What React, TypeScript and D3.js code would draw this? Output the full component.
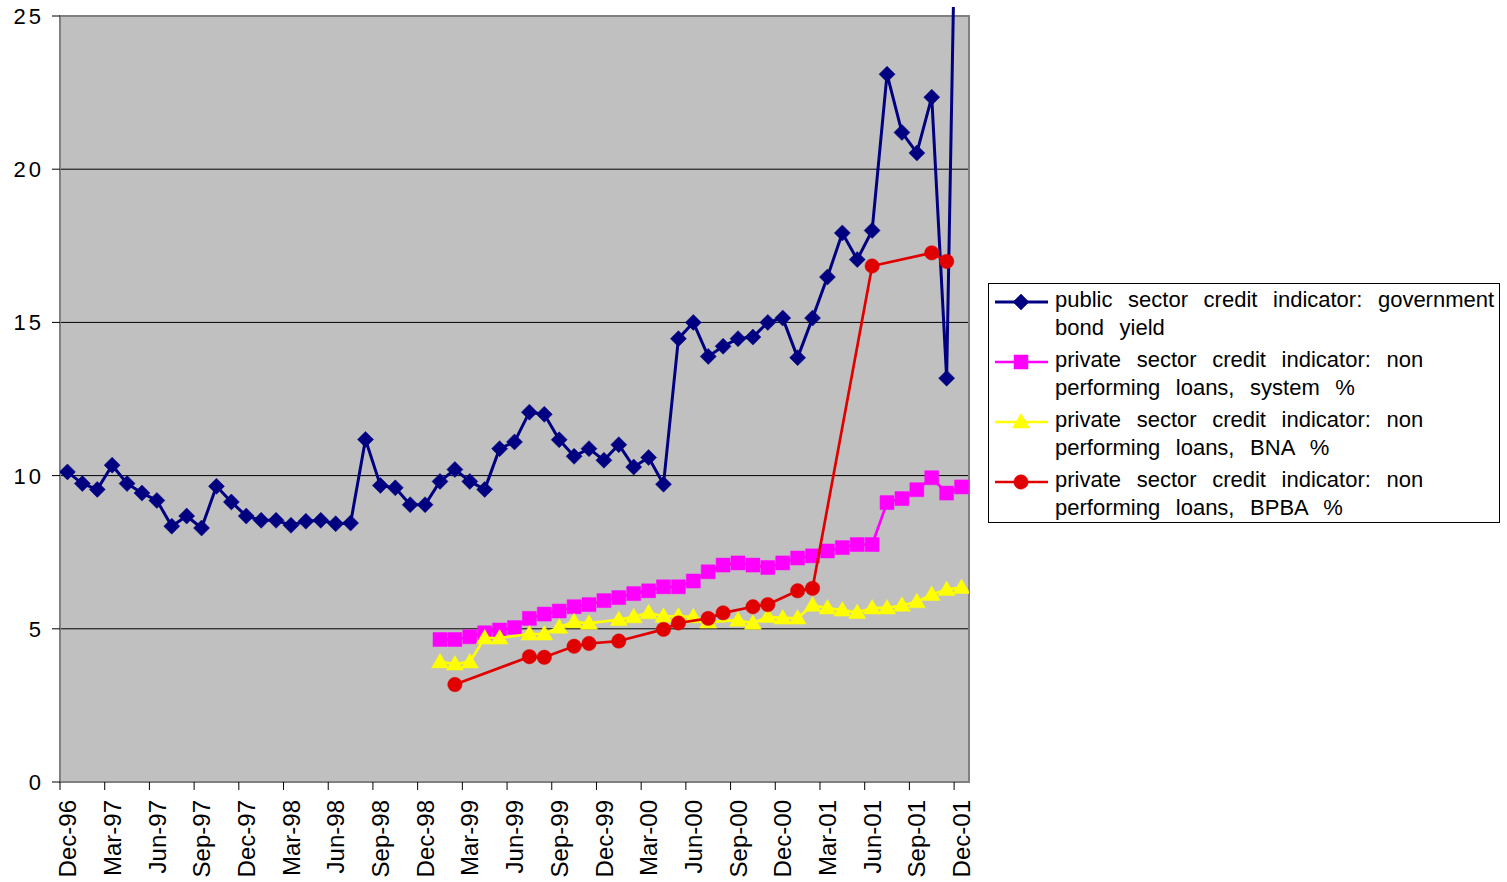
import React from 'react'
import * as d3 from 'd3'

// quarterly tick labels on the category axis (every 3rd month, Dec-96 .. Dec-01)
const tickLabels = [
  'Dec-96', 'Mar-97', 'Jun-97', 'Sep-97', 'Dec-97', 'Mar-98', 'Jun-98',
  'Sep-98', 'Dec-98', 'Mar-99', 'Jun-99', 'Sep-99', 'Dec-99', 'Mar-00',
  'Jun-00', 'Sep-00', 'Dec-00', 'Mar-01', 'Jun-01', 'Sep-01', 'Dec-01',
]
const nMonths = 61
const yTicks = [0, 5, 10, 15, 20, 25]

// monthly values, Dec-96 .. Dec-01
const bondYield = [
  10.12, 9.74, 9.55, 10.34, 9.74, 9.43, 9.19, 8.35, 8.68, 8.29,
  9.65, 9.14, 8.68, 8.54, 8.54, 8.38, 8.51, 8.54, 8.43, 8.45,
  11.18, 9.68, 9.6, 9.05, 9.05, 9.81, 10.2, 9.81, 9.55, 10.88,
  11.1, 12.07, 12.0, 11.17, 10.63, 10.88, 10.5, 11.01, 10.28, 10.59,
  9.72, 14.47, 15.0, 13.89, 14.22, 14.47, 14.52, 15.0, 15.14, 13.85,
  15.14, 16.48, 17.92, 17.05, 18.0, 23.1, 21.2, 20.53, 22.35, 13.18,
  40,
]
const lead = Array(25).fill(null)
const nplSystem = [
  ...lead,
  4.65, 4.65, 4.74, 4.87, 4.96, 5.04, 5.34, 5.48, 5.58, 5.72, 5.79, 5.92,
  6.02, 6.15, 6.24, 6.37, 6.37, 6.56, 6.86, 7.08, 7.15, 7.08, 7.0, 7.15,
  7.31, 7.38, 7.54, 7.65, 7.75, 7.75, 9.12, 9.25, 9.54, 9.93, 9.43, 9.63,
]
const nplBNA = [
  ...lead,
  3.92, 3.85, 3.92, 4.7, 4.7, null, 4.83, 4.83, 5.05, 5.23, 5.18, null,
  5.3, 5.39, 5.52, 5.41, 5.41, 5.39, 5.22, null, 5.28, 5.18, 5.4, 5.35,
  5.35, 5.77, 5.68, 5.61, 5.53, 5.68, 5.68, 5.77, 5.88, 6.12, 6.28, 6.35,
]
const nplBPBA = [
  ...lead,
  null, 3.18, null, null, null, null, 4.09, 4.07, null, 4.43, 4.52, null,
  4.6, null, null, 4.98, 5.19, null, 5.34, 5.52, null, 5.72, 5.79, null,
  6.24, 6.32, null, null, null, 16.84, null, null, null, 17.27, 16.99, null,
]

// marker shapes, Excel-like: rotated square, square, triangle, circle
const diamond = 'M0,-8L8,0L0,8L-8,0Z'
const square = 'M-7,-7H7V7H-7Z'
const triangle = 'M0,-8.5L8.5,6H-8.5Z'
const circle = d3.symbol().type(d3.symbolCircle).size(Math.PI * 7.2 * 7.2)() || ''

const series = [
  { name: ['public sector credit indicator: government', 'bond yield'], values: bondYield, color: '#000080', marker: diamond, width: 3 },
  { name: ['private sector credit indicator: non', 'performing loans, system %'], values: nplSystem, color: '#ff00ff', marker: square, width: 2.7 },
  { name: ['private sector credit indicator: non', 'performing loans, BNA %'], values: nplBNA, color: '#ffff00', marker: triangle, width: 2.7 },
  { name: ['private sector credit indicator: non', 'performing loans, BPBA %'], values: nplBPBA, color: '#e00000', marker: circle, width: 2.7 },
]

const W = 1507
const H = 882
const plot = { left: 60, right: 969, top: 16, bottom: 782 }
const font = '"Liberation Sans", Arial, sans-serif'

export default function App() {
  const x = d3
    .scaleBand<number>()
    .domain(d3.range(nMonths))
    .range([plot.left, plot.right])
  const cx = (i: number) => (x(i) as number) + x.bandwidth() / 2
  const y = d3.scaleLinear().domain([0, 25]).range([plot.bottom, plot.top])

  const line = d3
    .line<[number, number]>()
    .x((d) => cx(d[0]))
    .y((d) => y(d[1]))

  const legendX = 988
  const legendY = 283
  const entryH = 60

  return (
    <svg
      width={W}
      height={H}
      style={{ position: 'absolute', left: 0, top: 0, background: '#fff' }}
      fontFamily={font}
    >
      <defs>
        <clipPath id="plotClip">
          <rect x={plot.left} y={7} width={plot.right - plot.left} height={plot.bottom - 7} />
        </clipPath>
      </defs>

      {/* plot area */}
      <rect
        x={plot.left}
        y={plot.top}
        width={plot.right - plot.left}
        height={plot.bottom - plot.top}
        fill="#c0c0c0"
      />
      {yTicks.slice(1, -1).map((t) => (
        <line key={t} x1={plot.left} x2={plot.right} y1={y(t)} y2={y(t)} stroke="#000" strokeWidth={1} />
      ))}
      <rect
        x={plot.left}
        y={plot.top}
        width={plot.right - plot.left}
        height={plot.bottom - plot.top}
        fill="none"
        stroke="#808080"
        strokeWidth={2}
      />

      {/* y axis */}
      {yTicks.map((t) => (
        <g key={t}>
          <line x1={52} x2={plot.left} y1={y(t)} y2={y(t)} stroke="#000" />
          <text
            x={44}
            y={y(t)}
            dy="0.36em"
            textAnchor="end"
            fontSize={22}
            letterSpacing={3}
          >
            {t}
          </text>
        </g>
      ))}

      {/* x axis */}
      {tickLabels.map((lab, k) => {
        const i = k * 3
        const tx = x(i) as number
        return (
          <g key={lab}>
            <line x1={tx} x2={tx} y1={plot.bottom} y2={plot.bottom + 8} stroke="#000" />
            <text
              transform={`translate(${cx(i)},${800}) rotate(-90)`}
              dy="0.36em"
              textAnchor="end"
              fontSize={24}
            >
              {lab}
            </text>
          </g>
        )
      })}

      {/* series */}
      <g clipPath="url(#plotClip)">
        {series.map((s) => {
          const pts = s.values
            .map((v, i) => [i, v] as [number, number | null])
            .filter((d) => d[1] != null) as [number, number][]
          return (
            <g key={s.name.join(' ')}>
              <path d={line(pts) || ''} fill="none" stroke={s.color} strokeWidth={s.width} strokeLinejoin="round" />
              {pts.map((d) => (
                <path
                  key={d[0]}
                  d={s.marker}
                  transform={`translate(${cx(d[0])},${y(d[1])})`}
                  fill={s.color}
                  stroke={s.color}
                  strokeWidth={0.5}
                />
              ))}
            </g>
          )
        })}
      </g>

      {/* legend */}
      <rect x={legendX + 0.5} y={legendY + 0.5} width={511} height={239} fill="#fff" stroke="#000" strokeWidth={1} />
      {series.map((s, k) => {
        const my = 302 + k * entryH
        return (
          <g key={k}>
            <line x1={995} x2={1048} y1={my} y2={my} stroke={s.color} strokeWidth={s.width} />
            <path d={s.marker} transform={`translate(1021,${my})`} fill={s.color} stroke={s.color} strokeWidth={0.5} />
            {s.name.map((ln, j) => (
              <text key={j} x={1055} y={307 + k * entryH + j * 28} fontSize={22} wordSpacing={9.5}>
                {ln}
              </text>
            ))}
          </g>
        )
      })}
    </svg>
  )
}
